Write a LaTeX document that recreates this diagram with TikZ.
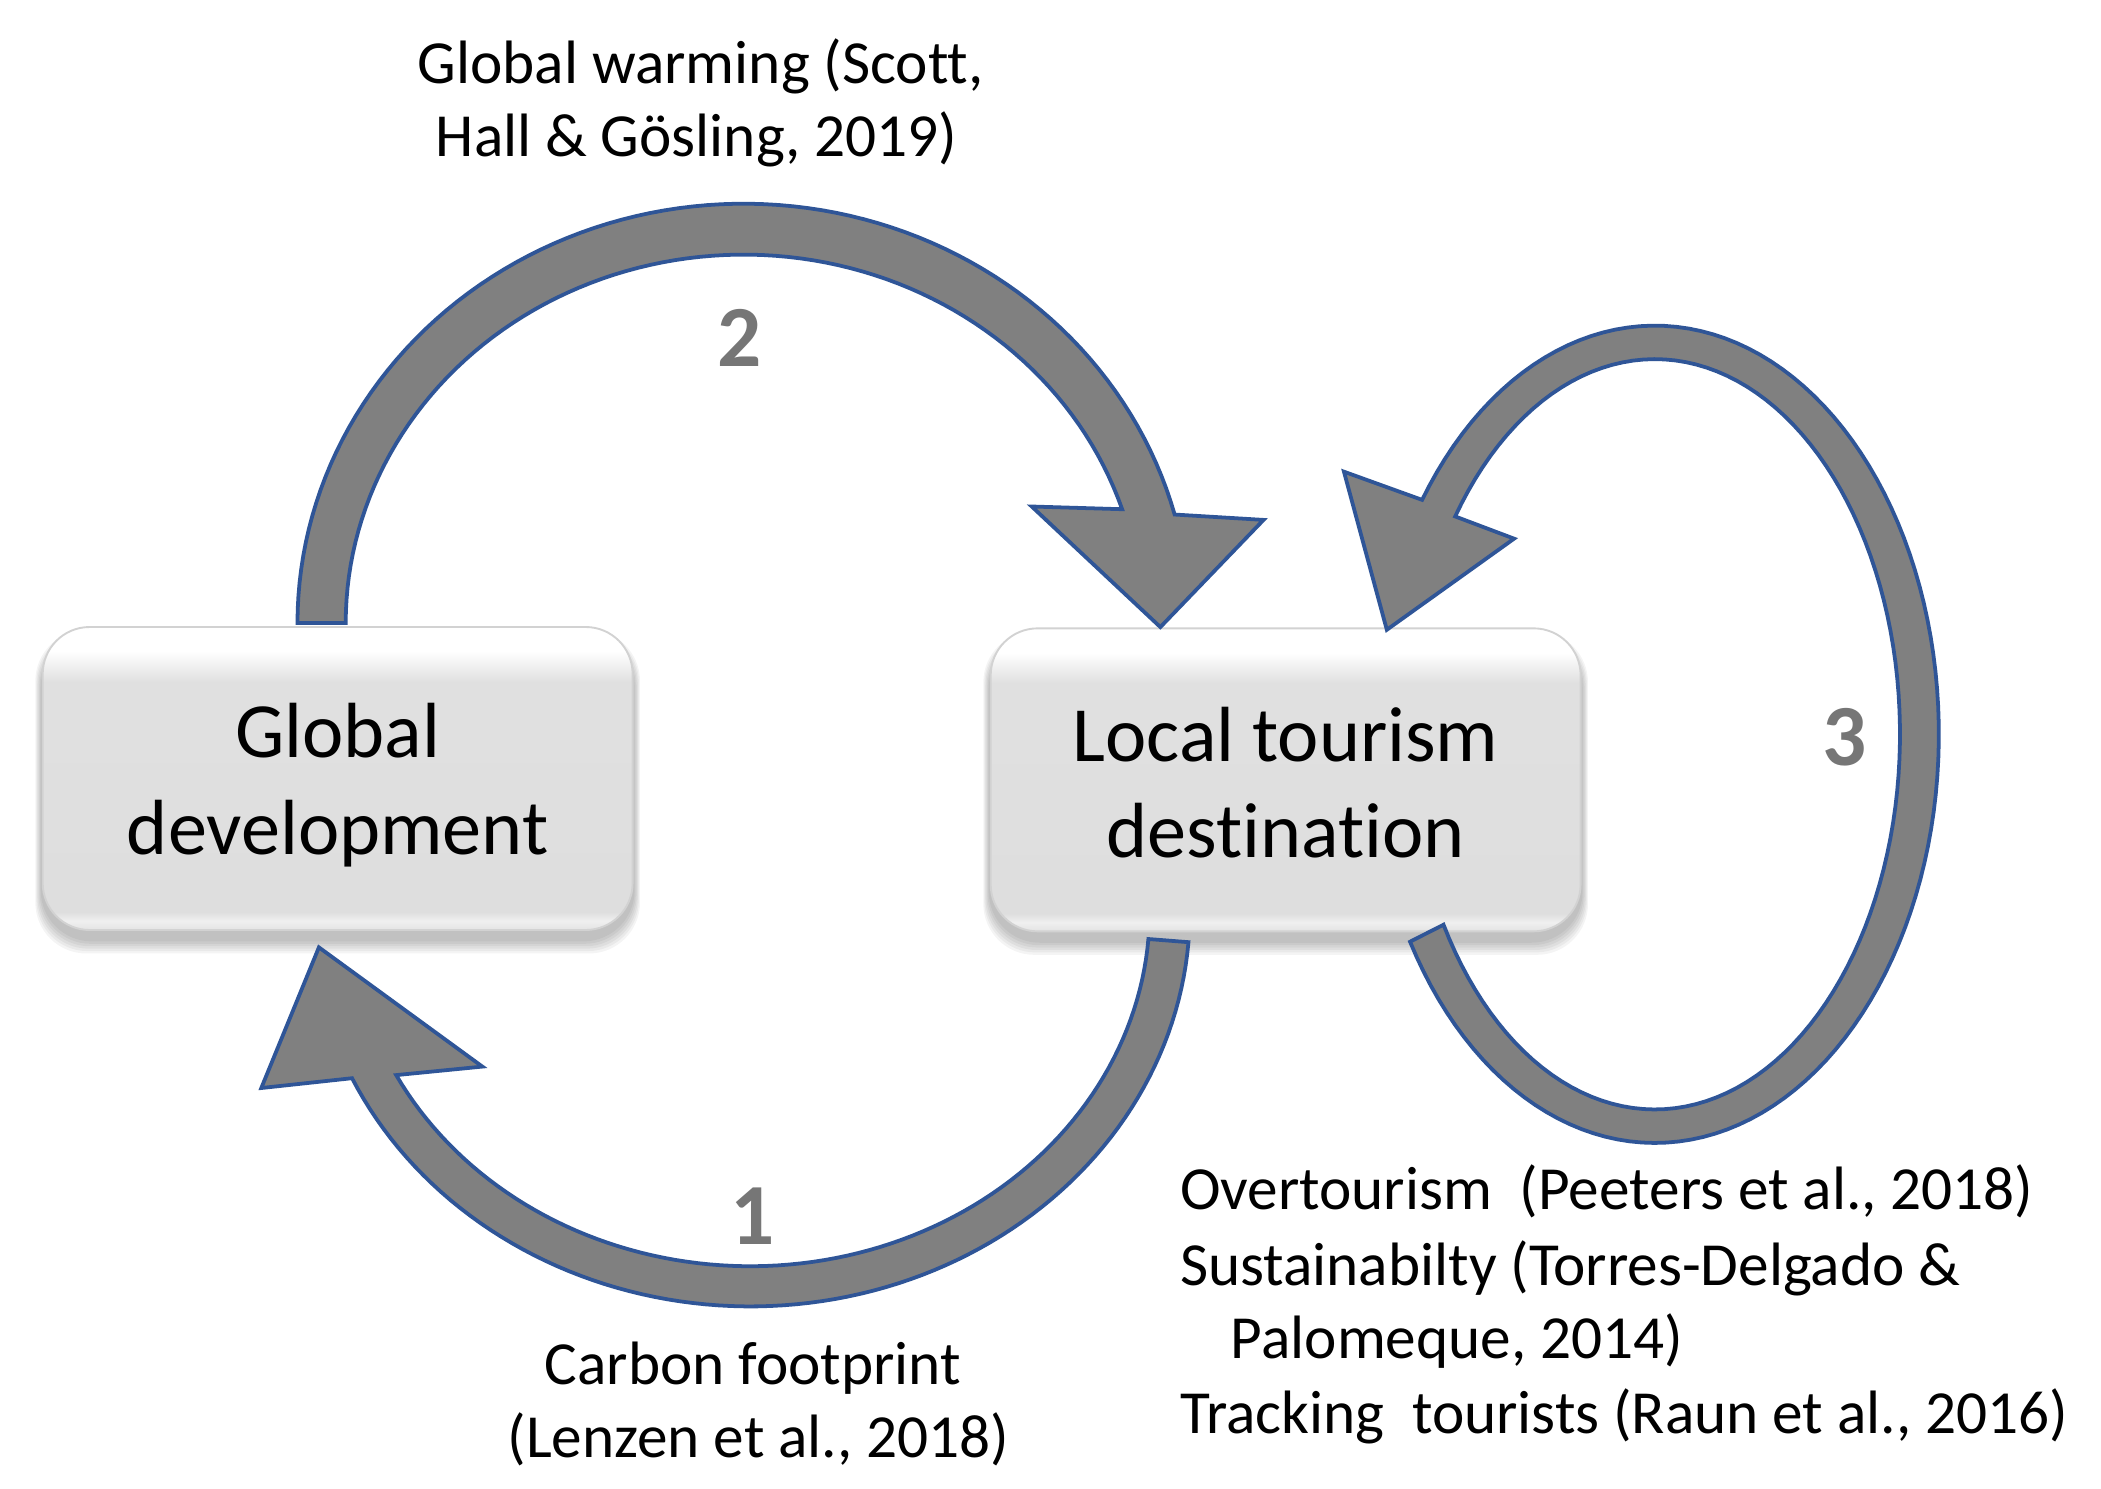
\documentclass[tikz,border=0pt]{standalone}
\usepackage{fontspec}
\setmainfont{Carlito}[Ligatures=NoCommon]
\usetikzlibrary{backgrounds}
\definecolor{arrowfill}{RGB}{128,128,128}
\definecolor{arrowline}{RGB}{47,85,151}
\definecolor{numgray}{RGB}{118,118,118}
\pgfdeclareverticalshading{boxshade}{100bp}{color(0bp)=(gray!22); color(25bp)=(gray!22); color(26.5bp)=(gray!12); color(28bp)=(gray!26); color(66bp)=(gray!24); color(71bp)=(white); color(100bp)=(white)}
\newcommand\smalltxt{\fontsize{13pt}{15.6pt}\selectfont}
\newcommand\boxtxt{\fontsize{16.6pt}{20.5pt}\selectfont}
\newcommand\numtxt{\fontsize{18.5pt}{22pt}\selectfont\bfseries}
\tikzset{
  tbox/.style={shape=rectangle, rounded corners=0.35cm, minimum width=4.4cm, minimum height=2.26cm,
    inner sep=0pt, shade, shading=boxshade, draw=gray!35, line width=0.4pt},
  boxlabel/.style={align=center, font=\boxtxt, inner sep=0pt},
  barrow/.style={fill=arrowfill, draw=arrowline, line width=0.8pt, line join=miter},
  txt/.style={font=\smalltxt, anchor=base, inner sep=0pt},
  num/.style={font=\numtxt, text=numgray, inner sep=0pt},
}
\begin{document}
\begin{tikzpicture}[x=0.01cm, y=-0.01cm]
\useasboundingbox (0,0) rectangle (1568,1111);
\begin{scope}[on background layer]
  \fill[white] (0,0) rectangle (1568,1111);
\end{scope}

% boxes
\node[tbox] (gd) at (252,581) {};
\node[tbox] (ltd) at (959.5,582) {};
\node[boxlabel] (gdt) at ([yshift=-0.05cm]gd.center) {Global\\development};
\node[boxlabel] (ltdt) at ([yshift=-0.02cm]ltd.center) {Local tourism\\destination};

% soft shadows below the boxes
\begin{scope}[on background layer]
  \foreach \n in {gd,ltd}{
    \foreach \k in {1,...,6}{
      \fill[black, opacity=0.045, rounded corners=0.38cm]
        ([xshift=-\k*0.008cm, yshift=-0.09cm+\k*0.01cm]\n.north west) rectangle
        ([xshift=\k*0.008cm, yshift=-0.06cm-\k*0.018cm]\n.south east);
    }
  }
\end{scope}

% arrow 2 (top, global -> local)
\filldraw[barrow]
  plot[domain=180:345, samples=90] ({555+333*cos(\x)},{465+313*sin(\x)})
  -- (943,388) -- (866,468) -- (770,378)
  -- plot[domain=342:180, samples=90] ({555+297*cos(\x)},{465+275*sin(\x)})
  -- cycle;

% arrow 1 (bottom, local -> global)
\filldraw[barrow]
  plot[domain=4.5:155, samples=90] ({560+328*cos(\x)},{680+295*sin(\x)})
  -- (195,812) -- (238,707) -- (360,796)
  -- plot[domain=152.5:4.5, samples=90] ({560+298*cos(\x)},{680+265*sin(\x)})
  -- cycle;

% arrow 3 (loop on local destination)
\filldraw[barrow]
  plot[domain=149.5:-145, samples=120] ({1235+212*cos(\x)},{548+305*sin(\x)})
  -- (1003,352) -- (1035,470) -- (1130,402)
  -- plot[domain=-144.5:149.5, samples=120] ({1235+183*cos(\x)},{548+280*sin(\x)})
  -- cycle;

% numbers
\node[num] (n2) at (552,252) {2};
\node[num] (n1) at (562,908) {1};
\node[num] (n3) at (1377,550) {3};

% labels
\node[txt] (gw1) at (523,62) {Global warming (Scott,};
\node[txt] (gw2) at (520,117) {Hall \& Gösling, 2019)};
\node[txt] (cf1) at (562,1033) {Carbon footprint};
\node[txt] (cf2) at (566,1088) {(Lenzen et al., 2018)};
\node[txt, anchor=base west] (ot) at (880,903) {Overtourism\ \ (Peeters et al., 2018)};
\node[txt, anchor=base west] (su) at (880,959) {Sustainabilty (Torres-Delgado \&};
\node[txt, anchor=base west] (pa) at (918,1014) {Palomeque, 2014)};
\node[txt, anchor=base west] (tr) at (880,1070) {Tracking\ \ tourists (Raun et al., 2016)};
\end{tikzpicture}
\end{document}
